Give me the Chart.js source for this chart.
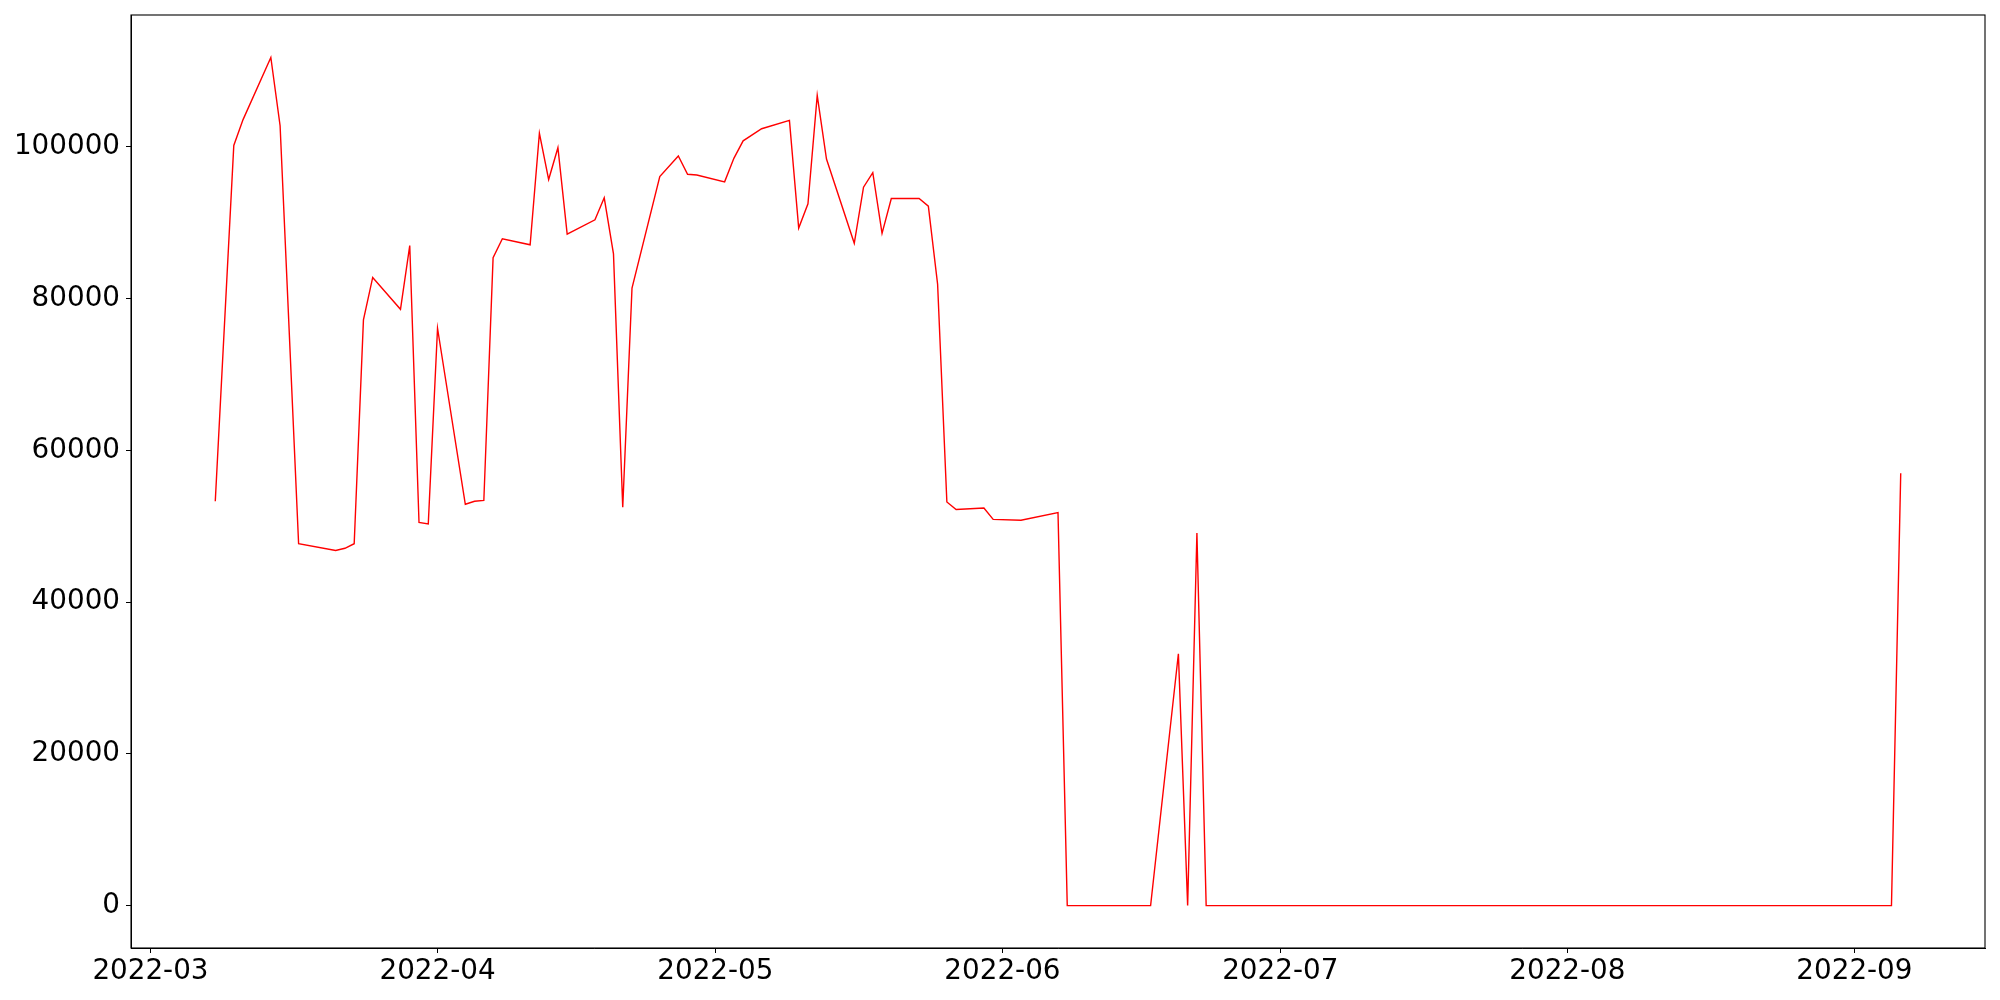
<!DOCTYPE html>
<html>
<head>
<meta charset="utf-8">
<script src="https://cdn.jsdelivr.net/npm/chart.js@4.4.1/dist/chart.umd.min.js"></script>
<style>
  html, body { margin: 0; padding: 0; background: #fff; }
  canvas { display: block; }
</style>
</head>
<body>
<canvas id="chart" width="2000" height="1000"></canvas>
<script>
// Daten (Werktage, Lücken = fehlende Tage)
const dates = [
  '2022-03-08','2022-03-10','2022-03-11','2022-03-14','2022-03-15','2022-03-17',
  '2022-03-21','2022-03-22','2022-03-23','2022-03-24','2022-03-25',
  '2022-03-28','2022-03-29','2022-03-30','2022-03-31','2022-04-01',
  '2022-04-04','2022-04-05','2022-04-06','2022-04-07','2022-04-08',
  '2022-04-11','2022-04-12','2022-04-13','2022-04-14','2022-04-15',
  '2022-04-18','2022-04-19','2022-04-20','2022-04-21','2022-04-22',
  '2022-04-25','2022-04-27','2022-04-28','2022-04-29',
  '2022-05-02','2022-05-03','2022-05-04','2022-05-06',
  '2022-05-09','2022-05-10','2022-05-11','2022-05-12','2022-05-13',
  '2022-05-16','2022-05-17','2022-05-18','2022-05-19','2022-05-20',
  '2022-05-23','2022-05-24','2022-05-25','2022-05-26','2022-05-27',
  '2022-05-30','2022-05-31','2022-06-03','2022-06-07','2022-06-08',
  '2022-06-17','2022-06-20','2022-06-21','2022-06-22','2022-06-23',
  '2022-09-05','2022-09-06'
];
const values = [
  53300, 100200, 103600, 111800, 102800, 47700,
  46800, 47100, 47700, 77200, 82800,
  78600, 87000, 50500, 50300, 76100,
  52900, 53300, 53400, 85400, 87900,
  87100, 101800, 95700, 99900, 88500,
  90400, 93300, 85900, 52500, 81400,
  96100, 98800, 96400, 96300,
  95400, 98500, 100800, 102400,
  103500, 89300, 92500, 106800, 98400,
  87300, 94700, 96600, 88600, 93200,
  93200, 92200, 81900, 53200, 52200,
  52400, 50900, 50800, 51800, 0,
  0, 33200, 0, 49100, 0,
  0, 57000
];
const monthTicks = ['2022-03-01','2022-04-01','2022-05-01','2022-06-01','2022-07-01','2022-08-01','2022-09-01'];
const yTicks = [0, 20000, 40000, 60000, 80000, 100000];

function toMs(s) {
  const p = s.split('-').map(Number);
  return Date.UTC(p[0], p[1] - 1, p[2]);
}

const points = dates.map((d, i) => ({ x: toMs(d), y: values[i] }));

// matplotlib-artige Ränder (5 %)
const xMin = Math.min(...points.map(p => p.x));
const xMax = Math.max(...points.map(p => p.x));
const yMin = Math.min(...values);
const yMax = Math.max(...values);
const xPad = (xMax - xMin) * 0.05;
const yPad = (yMax - yMin) * 0.05;

const font = { family: 'DejaVu Sans', size: 27.8 };

// Rahmen um die Zeichenfläche
const framePlugin = {
  id: 'frame',
  afterDraw(chart) {
    const a = chart.chartArea;
    const ctx = chart.ctx;
    ctx.save();
    ctx.strokeStyle = '#000';
    ctx.lineWidth = 1.1;
    ctx.strokeRect(a.left, a.top, a.right - a.left, a.bottom - a.top);
    ctx.restore();
  }
};

new Chart(document.getElementById('chart'), {
  type: 'line',
  data: {
    datasets: [{
      data: points,
      borderColor: '#ff0000',
      borderWidth: 1.4,
      pointRadius: 0,
      tension: 0,
      fill: false
    }]
  },
  options: {
    responsive: false,
    animation: false,
    devicePixelRatio: 1,
    layout: { padding: { top: 15, right: 15, left: 0, bottom: 0 } },
    plugins: { legend: { display: false }, tooltip: { enabled: false } },
    scales: {
      x: {
        type: 'linear',
        min: xMin - xPad,
        max: xMax + xPad,
        afterFit(scale) {
          scale.height = 52;
          scale.paddingLeft = 0;
          scale.paddingRight = 0;
        },
        afterBuildTicks(scale) {
          scale.ticks = monthTicks.map(m => ({ value: toMs(m) }));
        },
        ticks: {
          autoSkip: false,
          maxRotation: 0,
          color: '#000',
          font: font,
          padding: 2,
          callback(v) {
            const d = new Date(v);
            return d.getUTCFullYear() + '-' + String(d.getUTCMonth() + 1).padStart(2, '0');
          }
        },
        grid: { drawOnChartArea: false, drawTicks: true, tickLength: 5, tickColor: '#000' },
        border: { display: true, color: '#000', width: 1 }
      },
      y: {
        min: yMin - yPad,
        max: yMax + yPad,
        afterFit(scale) {
          scale.width = 131;
          scale.paddingTop = 0;
          scale.paddingBottom = 0;
        },
        afterBuildTicks(scale) {
          scale.ticks = yTicks.map(v => ({ value: v }));
        },
        ticks: {
          color: '#000',
          font: font,
          padding: 6,
          callback(v) { return String(v); }
        },
        grid: { drawOnChartArea: false, drawTicks: true, tickLength: 5, tickColor: '#000' },
        border: { display: true, color: '#000', width: 1 }
      }
    }
  },
  plugins: [framePlugin]
});
</script>
</body>
</html>
